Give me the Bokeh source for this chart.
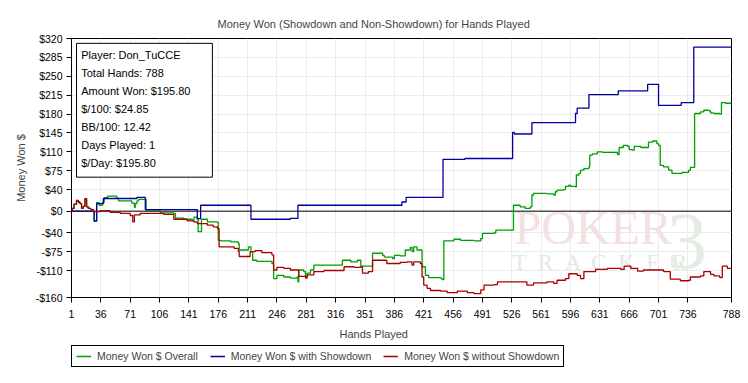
from bokeh.plotting import figure
from bokeh.models import (Range1d, FixedTicker, Span, BoxAnnotation, Label,
                          Legend, LegendItem, Title)
from bokeh.layouts import column
from bokeh.embed import file_html
from bokeh.resources import INLINE
from bokeh.core.properties import value

# ---------------- data ----------------
title_text = "Money Won (Showdown and Non-Showdown) for Hands Played"
x_label = "Hands Played"
y_label = "Money Won $"

x_ticks = [1, 36, 71, 106, 141, 176, 211, 246, 281, 316, 351, 386, 421, 456,
           491, 526, 561, 596, 631, 666, 701, 736, 788]
y_ticks = [-160, -110, -75, -40, 0, 40, 75, 110, 145, 180, 215, 250, 285, 320]
y_tick_labels = ["-$160", "-$110", "-$75", "-$40", "$0", "$40", "$75", "$110",
                 "$145", "$180", "$215", "$250", "$285", "$320"]

series_names = ["Money Won $ Overall", "Money Won $ with Showdown",
                "Money Won $ without Showdown"]

# Money Won $ with Showdown (blue)
sd_hands = [1, 28, 31, 39, 79, 89, 151, 155, 215, 262, 271, 395, 400, 444, 470,
            527, 529, 550, 602, 604, 618, 653, 688, 701, 728, 743, 788]
sd_won = [0, -18, 14, 23.5, 25.5, 3, -14, 11, -15, -13.5, 11, 17, 25.5, 96, 97.6,
          146, 143, 164, 181, 191, 216, 223, 235, 196, 201, 304, 304]

# Money Won $ without Showdown (red)
nsd_hands = [1, 2, 4, 7, 9, 11, 13, 15, 17, 19, 21, 24, 27, 35, 47, 59, 71, 74, 76,
             83, 103, 111, 123, 139, 147, 151, 163, 170, 175, 177, 191, 195, 200,
             201, 207, 214, 220, 228, 240, 242, 246, 254, 262, 272, 280, 282, 290,
             302, 318, 326, 338, 346, 348, 355, 360, 373, 377, 385, 393, 401, 407,
             409, 417, 419, 421, 425, 429, 441, 449, 461, 473, 481, 489, 493, 505,
             509, 528, 544, 552, 568, 576, 580, 590, 594, 604, 608, 612, 626, 640,
             656, 660, 668, 676, 683, 691, 707, 715, 727, 737, 739, 751, 755, 763,
             767, 774, 777, 783, 788]
nsd_won = [0, 5, 13, 20, 17, 14, 5, 9, 23, 8, 5, 3, -1, 1, -2, -4, -8, -20, -7,
           -4, -4, -6, -15, -18, -20, -23, -26, -29, -32, -66, -66, -69, -75,
           -84, -84, -75, -73, -77, -81, -109, -104, -106, -109, -121, -124, -118,
           -112, -110, -110, -103, -104, -103, -115, -112, -91, -91, -97, -97,
           -95, -94, -100, -94, -97, -122, -137, -143, -147, -148, -151, -148,
           -151, -153, -146, -137, -136, -131, -131, -137, -133, -131, -134,
           -128, -125, -116, -119, -125, -112, -108, -106, -108, -102, -106,
           -111, -109, -109, -112, -126, -129, -128, -122, -120, -112, -117,
           -120, -123, -102, -106, -106]

# Money Won $ Overall (green)
all_hands = [1, 2, 4, 7, 9, 11, 13, 15, 17, 19, 21, 24, 27, 28, 31, 34, 38, 40, 44,
             55, 57, 73, 76, 77, 79, 81, 90, 107, 123, 125, 135, 145, 147, 151,
             152, 156, 163, 175, 176, 179, 191, 200, 201, 212, 215, 217, 222, 240,
             242, 246, 254, 262, 270, 271, 272, 278, 280, 282, 286, 290, 318, 324,
             334, 342, 346, 358, 360, 372, 374, 384, 386, 393, 399, 405, 407, 409,
             413, 417, 419, 423, 427, 441, 443, 445, 457, 465, 481, 489, 491, 505,
             507, 527, 528, 536, 542, 548, 550, 552, 568, 576, 578, 580, 588, 590,
             594, 596, 602, 603, 606, 608, 612, 618, 619, 622, 628, 634, 644, 652,
             654, 659, 664, 666, 670, 672, 680, 688, 689, 694, 699, 701, 703, 707,
             713, 717, 727, 729, 737, 739, 743, 744, 751, 755, 761, 763, 767, 774,
             776, 781, 788]
all_won = [0, 5, 13, 20, 17, 14, 5, 9, 23, 8, 5, 3, -1, -19, 16, 11, 16, 25, 28,
           24, 19, 15, 7, 14, 19, 22, 2, -3, -4, -13, -15, -17, -11, -15, -38,
           -15, -20, -21, -54, -55, -57, -60, -72, -66, -75, -91, -93, -97, -125,
           -119, -122, -124, -122, -131, -109, -112, -122, -115, -109, -100, -100,
           -91, -94, -91, -102, -102, -78, -82, -85, -88, -82, -83, -72, -67, -75,
           -66, -72, -72, -103, -119, -123, -124, -127, -55, -52, -54, -55, -51,
           -41, -40, -35, -35, 11, 8, 5, 8, 30, 33, 32, 30, 36, 39, 40, 46, 48, 46,
           45, 67, 70, 76, 79, 82, 104, 106, 110, 109, 109, 105, 118, 122, 120,
           114, 113, 120, 118, 118, 128, 130, 125, 122, 85, 82, 76, 70, 70, 72, 76,
           81, 81, 181, 184, 187, 186, 182, 181, 180, 201, 200, 195.8]

info_lines = ["Player: Don_TuCCE", "Total Hands: 788", "Amount Won: $195.80",
              "$/100: $24.85", "BB/100: 12.42", "Days Played: 1", "$/Day: $195.80"]

# ---------------- style ----------------
FONT = "Liberation Sans"
GREEN = "#00a000"
BLUE = "#0000a0"
RED = "#a80000"
GRID = "#ebebeb"
COLORS = [GREEN, BLUE, RED]
SERIES = [(all_hands, all_won), (sd_hands, sd_won), (nsd_hands, nsd_won)]

p = figure(frame_width=660, frame_height=259,
           x_range=Range1d(1, 788), y_range=Range1d(-160, 320),
           output_backend="svg", toolbar_location=None,
           min_border_left=71, min_border_right=17, min_border_top=38,
           min_border_bottom=46, background_fill_color="white",
           border_fill_color="white")

p.title.text = title_text
p.title.text_font = FONT
p.title.text_font_size = "11px"
p.title.text_font_style = "normal"
p.title.align = "left"
p.title.offset = 146
p.title.standoff = 17

p.outline_line_color = "black"
p.outline_line_alpha = 1.0

xt = FixedTicker(ticks=x_ticks)
yt = FixedTicker(ticks=y_ticks)
p.xaxis.ticker = xt
p.yaxis.ticker = yt
p.xgrid.ticker = xt
p.ygrid.ticker = yt
p.grid.grid_line_color = GRID
p.grid.grid_line_width = 1

p.yaxis.major_label_overrides = {t: l for t, l in zip(y_ticks, y_tick_labels)}
for ax in (p.xaxis, p.yaxis):
    ax.major_tick_out = 5
    ax.major_tick_in = 0
    ax.minor_tick_out = 0
    ax.minor_tick_in = 0
    ax.axis_line_color = "black"
    ax.major_tick_line_color = "black"
    ax.major_label_text_font = FONT
    ax.major_label_text_font_size = "10.5px"
    ax.major_label_text_color = "black"
    ax.axis_label_text_font = FONT
    ax.axis_label_text_font_size = "11px"
    ax.axis_label_text_font_style = "normal"
p.xaxis.major_label_standoff = 7
p.yaxis.major_label_standoff = 4

p.yaxis.axis_label = y_label
p.yaxis.axis_label_standoff = 6

# watermark
p.text(x=[623], y=[-31], text=["POKER"], text_font=value("Liberation Serif"),
       text_font_size="48px", text_color="#f3e1e1", text_align="center",
       text_baseline="middle")
p.text(x=[632], y=[-95], text=["T \u00a0R \u00a0A \u00a0C \u00a0K \u00a0E \u00a0R"],
       text_font=value("Liberation Serif"),
       text_font_size="23px", text_color="#e3eae3", text_align="center",
       text_baseline="middle")
p.text(x=[735], y=[-57], text=["3"], text_font=value("Liberation Serif"),
       text_font_size="80px", text_color="#e4ede4", text_align="center",
       text_baseline="middle")

p.add_layout(Span(location=0, dimension="width", line_color="black",
                  line_width=1, level="underlay"))

renderers = [p.step(xs, ys, mode="after", line_color=c, line_width=1.3)
             for (xs, ys), c in zip(SERIES, COLORS)]

# info box
p.add_layout(BoxAnnotation(left=7, right=169, top=311, bottom=63,
                           fill_color="white", fill_alpha=1.0,
                           line_color="black", line_width=1, line_alpha=1.0))
px_per_dollar = 259 / 480.0
for i, line in enumerate(info_lines):
    p.add_layout(Label(x=12.6, y=289 - i * 18 / px_per_dollar, text=line,
                       text_font=FONT, text_font_size="11px",
                       text_baseline="middle", text_color="black"))

p.add_layout(Title(text=x_label, align="left", offset=268, text_font=FONT,
                   text_font_size="11px", text_font_style="normal",
                   standoff=10), "below")

# ---------------- legend strip (separate small figure) ----------------
lf = figure(width=748, height=30, x_range=Range1d(0, 1), y_range=Range1d(1000, 1001),
            output_backend="svg", toolbar_location=None,
            x_axis_location=None, y_axis_location=None,
            min_border=0, min_border_left=71, min_border_right=0,
            min_border_top=1, min_border_bottom=0,
            background_fill_color="white", border_fill_color="white")
lf.grid.visible = False
lf.outline_line_color = None
keys = [lf.step(xs, ys, mode="after", line_color=c, line_width=1.5)
        for (xs, ys), c in zip(SERIES, COLORS)]
legend = Legend(items=[LegendItem(label=n, renderers=[r])
                       for n, r in zip(series_names, keys)],
                orientation="horizontal", location="top_left",
                border_line_color="black", border_line_alpha=1.0, border_line_width=1,
                padding=4, spacing=12, glyph_width=15, glyph_height=12,
                label_standoff=6, margin=0, label_height=12,
                label_text_font=FONT, label_text_font_size="10.5px",
                background_fill_alpha=1.0)
lf.add_layout(legend, "center")

open("out.html", "w").write(file_html(column(p, lf, spacing=0), INLINE))
